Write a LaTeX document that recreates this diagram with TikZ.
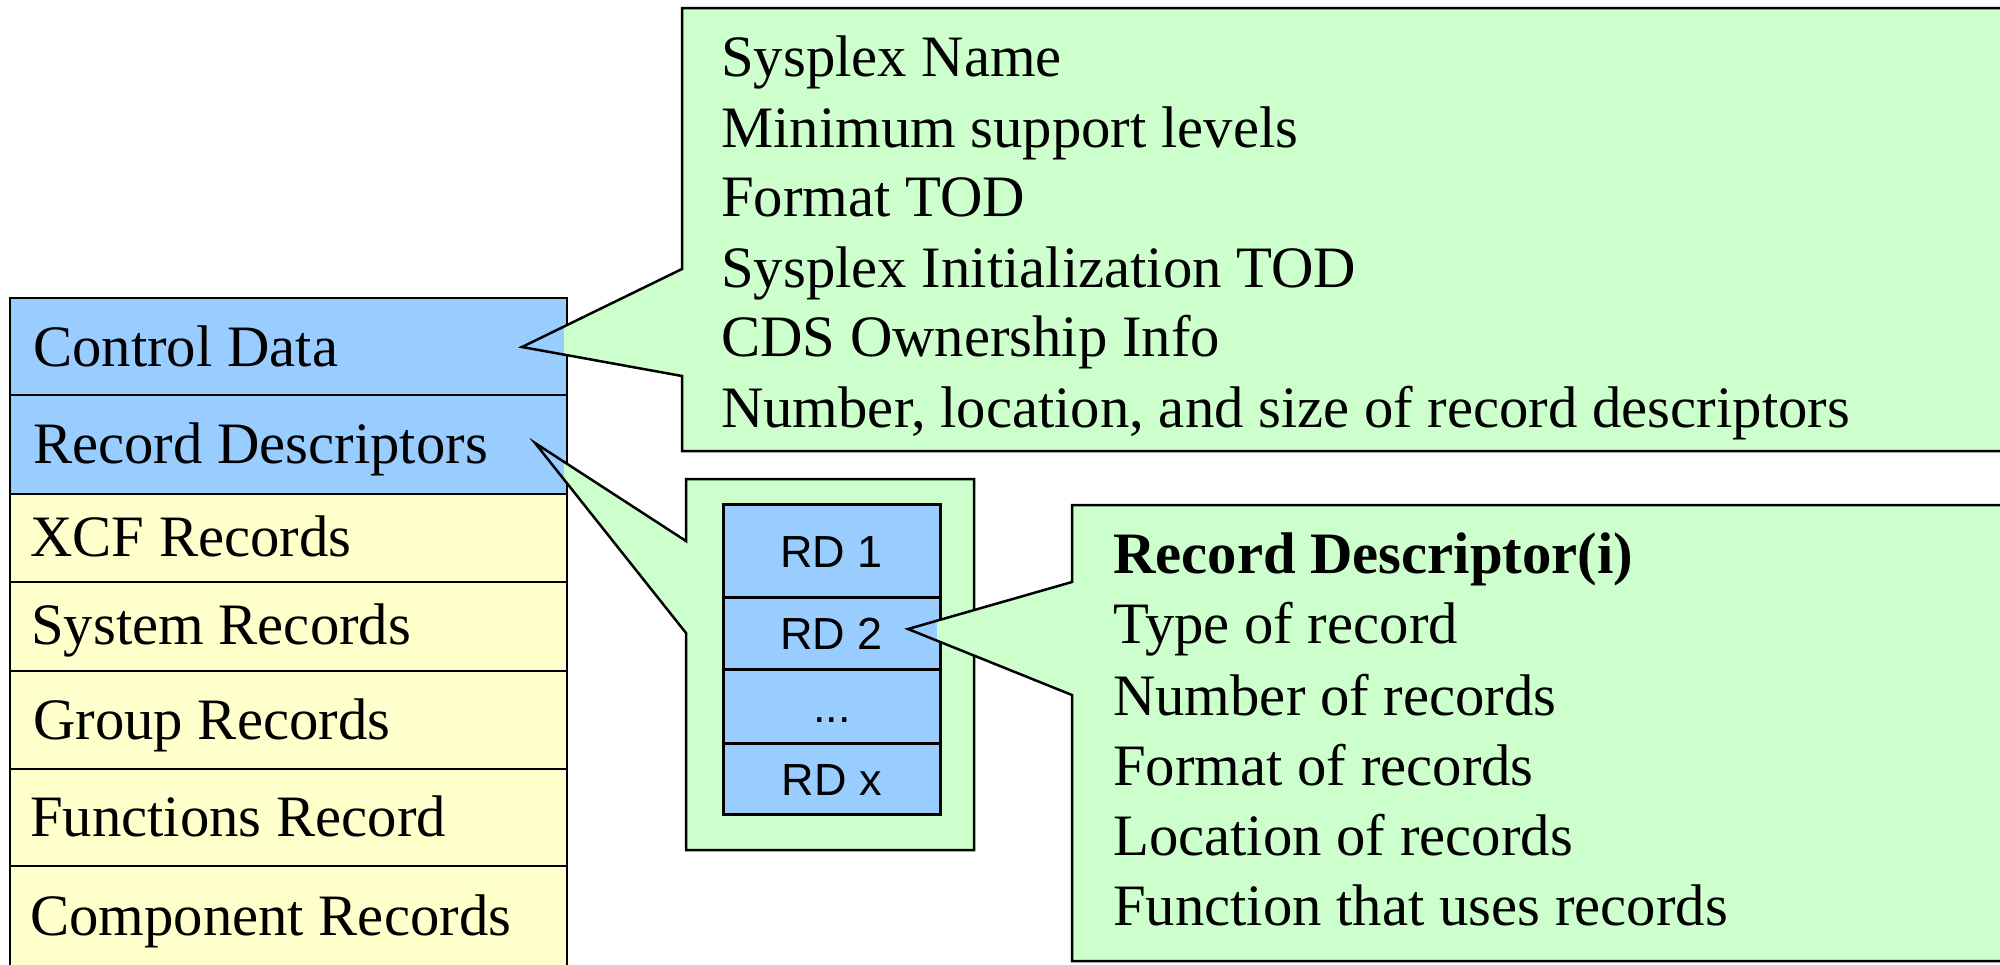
\documentclass[tikz,border=0pt]{standalone}
\usepackage{fontspec}
\setmainfont{Liberation Serif}
\newfontfamily\rdfont{Liberation Sans}
\definecolor{cblue}{HTML}{99CCFF}
\definecolor{cyellow}{HTML}{FFFFCC}
\definecolor{cgreen}{HTML}{CCFFCC}
\begin{document}
\begin{tikzpicture}[x=1pt,y=-1pt,line join=miter,
  lbl/.style={anchor=base west,inner sep=0pt,font=\fontsize{58.7}{70}\selectfont},
  rdrow/.style={draw,line width=2.5pt,fill=cblue,minimum width=217pt,inner sep=0pt,
    text height=33pt,text depth=0pt,font=\rdfont\fontsize{45}{54}\selectfont},
  edge/.style={line width=2.5pt}]
\useasboundingbox (0,0) rectangle (2000,964);
% left stack
\draw[edge,fill=cblue] (10,298) rectangle (567,395);
\draw[edge,fill=cblue] (10,395) rectangle (567,494);
\draw[edge,fill=cyellow] (10,494) rectangle (567,582);
\draw[edge,fill=cyellow] (10,582) rectangle (567,671);
\draw[edge,fill=cyellow] (10,671) rectangle (567,769);
\draw[edge,fill=cyellow] (10,769) rectangle (567,866);
\draw[edge,fill=cyellow] (10,866) rectangle (567,980);
\node[lbl] (cd) at (33,366) {Control Data};
\node[lbl] (rdesc) at (33,463) {Record Descriptors};
\node[lbl] (xcf) at (30,556) {XCF Records};
\node[lbl] (sys) at (31,644) {System Records};
\node[lbl] (grp) at (33,739) {Group Records};
\node[lbl] (fun) at (30,836) {Functions Record};
\node[lbl] (comp) at (30,935) {Component Records};
% callout 1
\coordinate (tipA) at (522,347);
\begin{scope}
\clip (564,0) rectangle (2000,964);
\fill[cgreen] (682,8) -- (2010,8) -- (2010,451) -- (682,451) -- (682,376) -- (tipA) -- (682,269) -- cycle;
\end{scope}
\draw[edge] (682,8) -- (2010,8) -- (2010,451) -- (682,451) -- (682,376) -- (tipA) -- (682,269) -- cycle;
\node[lbl] (c1a) at (721,76) {Sysplex Name};
\node[lbl] (c1b) at (721,147) {Minimum support levels};
\node[lbl] (c1c) at (721,216) {Format TOD};
\node[lbl] (c1d) at (721,287) {Sysplex Initialization TOD};
\node[lbl] (c1e) at (721,356) {CDS Ownership Info};
\node[lbl] (c1f) at (721,427) {Number, location, and size of record descriptors};
% callout 2
\coordinate (tipB) at (535,443);
\begin{scope}
\clip (564,0) rectangle (2000,964);
\fill[cgreen] (686,479) -- (974,479) -- (974,850) -- (686,850) -- (686,633) -- (tipB) -- (686,541) -- cycle;
\end{scope}
\draw[edge] (686,479) -- (974,479) -- (974,850) -- (686,850) -- (686,633) -- (tipB) -- (686,541) -- cycle;
\node[rdrow,minimum height=93pt,anchor=north west] (rd1) at (722,503) {RD 1};
\node[rdrow,minimum height=72pt,anchor=north west] (rd2) at (722,596) {RD 2};
\node[rdrow,minimum height=74pt,anchor=north west] (rddots) at (722,668) {...};
\node[rdrow,minimum height=71pt,anchor=north west] (rdx) at (722,742) {RD x};
% callout 3
\coordinate (tipC) at (908,629);
\begin{scope}
\clip (937,0) rectangle (2000,964);
\fill[cgreen] (1072,505) -- (2010,505) -- (2010,961) -- (1072,961) -- (1072,695) -- (tipC) -- (1072,582) -- cycle;
\end{scope}
\draw[edge] (1072,505) -- (2010,505) -- (2010,961) -- (1072,961) -- (1072,695) -- (tipC) -- (1072,582) -- cycle;
\node[lbl] (c3a) at (1113,573) {\bfseries Record Descriptor(i)};
\node[lbl] (c3b) at (1113,643) {Type of record};
\node[lbl] (c3c) at (1113,715) {Number of records};
\node[lbl] (c3d) at (1113,785) {Format of records};
\node[lbl] (c3e) at (1113,855) {Location of records};
\node[lbl] (c3f) at (1113,925) {Function that uses records};
\end{tikzpicture}
\end{document}
